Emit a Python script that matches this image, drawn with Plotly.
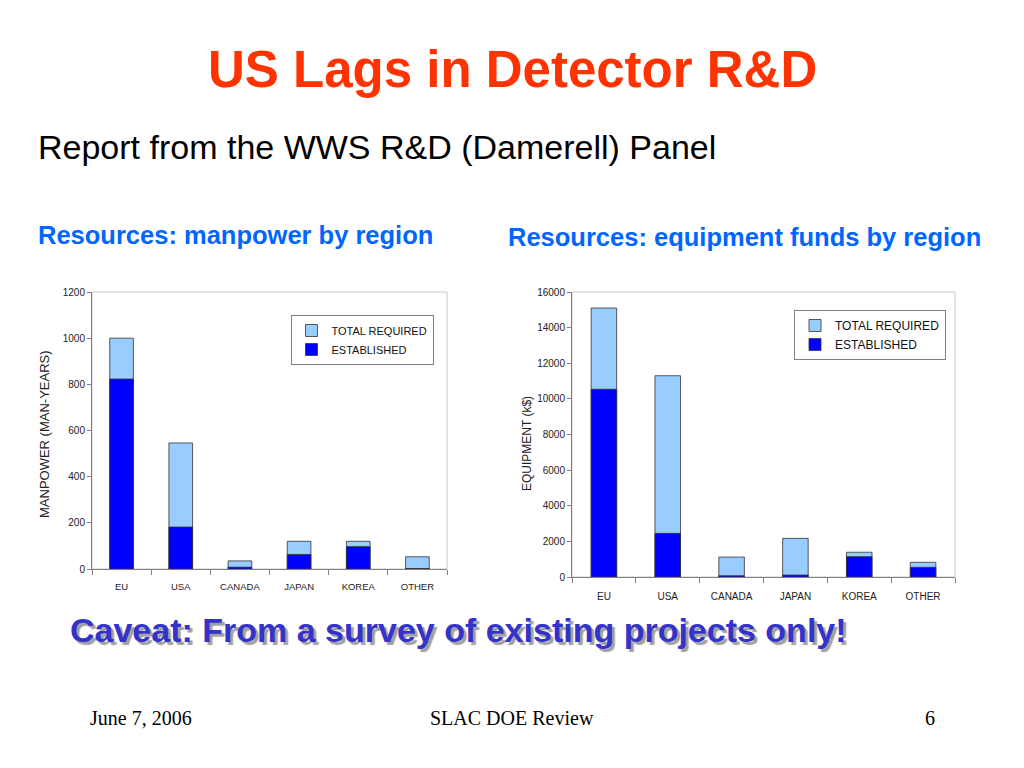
import plotly.graph_objects as go

W, H = 1024, 768
OFF = 8  # page body margin compensation

regions = ["EU", "USA", "CANADA", "JAPAN", "KOREA", "OTHER"]
manpower_total = [1000, 546, 35, 120, 120, 53]
manpower_established = [823, 182, 8, 63, 97, 2]
equip_total = [15100, 11300, 1120, 2170, 1390, 825]
equip_established = [10540, 2450, 70, 110, 1140, 545]

LIGHT = "#99CCFF"
DARK = "#0000FF"
OUTLINE = "#333333"
SANS = "Liberation Sans, Arial, sans-serif"


def px(x):
    return (x - OFF) / W


def py(y):
    return 1 - (y - OFF) / H


fig = go.Figure()

fig.add_trace(go.Bar(x=regions, y=manpower_total, name="TOTAL REQUIRED",
                     marker=dict(color=LIGHT, line=dict(color=OUTLINE, width=0.8)),
                     width=0.4, xaxis="x", yaxis="y", legend="legend"))
fig.add_trace(go.Bar(x=regions, y=manpower_established, name="ESTABLISHED",
                     marker=dict(color=DARK, line=dict(color=OUTLINE, width=0.8)),
                     width=0.4, xaxis="x", yaxis="y", legend="legend"))
fig.add_trace(go.Bar(x=regions, y=equip_total, name="TOTAL REQUIRED",
                     marker=dict(color=LIGHT, line=dict(color=OUTLINE, width=0.8)),
                     width=0.4, xaxis="x2", yaxis="y2", legend="legend2"))
fig.add_trace(go.Bar(x=regions, y=equip_established, name="ESTABLISHED",
                     marker=dict(color=DARK, line=dict(color=OUTLINE, width=0.8)),
                     width=0.4, xaxis="x2", yaxis="y2", legend="legend2"))


def xaxis_style(size, standoff):
    return dict(type="category", showline=True, linecolor="#808080", linewidth=1,
                ticks="outside", tickson="boundaries", ticklen=5, tickcolor="#808080",
                showgrid=False, tickfont=dict(family=SANS, size=size, color="#222222"),
                zeroline=False, automargin=False, ticklabelstandoff=standoff)


def yaxis_style(size):
    return dict(showline=True, linecolor="#808080", linewidth=1, ticks="outside",
                ticklen=4, tickcolor="#808080", showgrid=False,
                tickfont=dict(family=SANS, size=size, color="#222222"),
                zeroline=False, automargin=False, tickformat="d")


fig.update_layout(
    width=W, height=H,
    margin=dict(l=0, r=0, t=0, b=0, pad=0),
    paper_bgcolor="white", plot_bgcolor="white",
    barmode="overlay",
    xaxis=dict(domain=[px(92), px(447)], anchor="y", **xaxis_style(9.5, 9)),
    yaxis=dict(domain=[py(569), py(292)], anchor="x", range=[0, 1200], dtick=200,
               **yaxis_style(10)),
    xaxis2=dict(domain=[px(572), px(955)], anchor="y2", **xaxis_style(10, 10)),
    yaxis2=dict(domain=[py(577), py(292)], anchor="x2", range=[0, 16000], dtick=2000,
                **yaxis_style(10)),
    legend=dict(x=px(362), y=py(315), xanchor="center", yanchor="top",
                bgcolor="white", bordercolor="#808080", borderwidth=1,
                font=dict(family=SANS, size=11, color="#111111"),
                tracegroupgap=0, itemwidth=30),
    legend2=dict(x=px(870), y=py(310), xanchor="center", yanchor="top",
                 bgcolor="white", bordercolor="#808080", borderwidth=1,
                 font=dict(family=SANS, size=12, color="#111111"),
                 tracegroupgap=0, itemwidth=30),
    showlegend=True,
)

# plot area frames (light gray top/right border)
for xr, yr in (("x domain", "y domain"), ("x2 domain", "y2 domain")):
    fig.add_shape(type="rect", xref=xr, yref=yr, x0=0, x1=1, y0=0, y1=1,
                  line=dict(color="#C8C8C8", width=1), layer="below")

annotations = []
# axis titles
annotations.append(dict(text="MANPOWER (MAN-YEARS)", x=px(44), y=py(434), textangle=-90,
                        xref="paper", yref="paper", xanchor="center", yanchor="middle",
                        showarrow=False, font=dict(family=SANS, size=13, color="#222222")))
annotations.append(dict(text="EQUIPMENT (k$)", x=px(527), y=py(444), textangle=-90,
                        xref="paper", yref="paper", xanchor="center", yanchor="middle",
                        showarrow=False, font=dict(family=SANS, size=12, color="#222222")))
annotations.append(dict(text="<b>US Lags in Detector R&D</b>", x=px(512), y=py(70),
                        xref="paper", yref="paper", xanchor="center", yanchor="middle",
                        showarrow=False,
                        font=dict(family=SANS, size=51, color="#FF3300")))
annotations.append(dict(text="Report from the WWS R&D (Damerell) Panel", x=px(36), y=py(147),
                        xref="paper", yref="paper", xanchor="left", yanchor="middle",
                        showarrow=False,
                        font=dict(family=SANS, size=34, color="#000000")))
annotations.append(dict(text="<b>Resources: manpower by region</b>", x=px(36), y=py(235),
                        xref="paper", yref="paper", xanchor="left", yanchor="middle",
                        showarrow=False,
                        font=dict(family=SANS, size=25.5, color="#0066FF")))
annotations.append(dict(text="<b>Resources: equipment funds by region</b>", x=px(506), y=py(237),
                        xref="paper", yref="paper", xanchor="left", yanchor="middle",
                        showarrow=False,
                        font=dict(family=SANS, size=25.5, color="#0066FF")))
annotations.append(dict(text="<b>Caveat: From a survey of existing projects only!</b>",
                        x=px(68), y=py(630),
                        xref="paper", yref="paper", xanchor="left", yanchor="middle",
                        showarrow=False,
                        font=dict(family=SANS, size=34, color="#3333CC",
                                  shadow="3px 3px 1px #A0A0A0")))
footer_font = dict(family="Liberation Serif, Times New Roman, serif", size=20, color="#000000")
annotations.append(dict(text="June 7, 2006", x=px(88), y=py(718), xref="paper", yref="paper",
                        xanchor="left", yanchor="middle", showarrow=False, font=footer_font))
annotations.append(dict(text="SLAC DOE Review", x=px(512), y=py(718), xref="paper", yref="paper",
                        xanchor="center", yanchor="middle", showarrow=False, font=footer_font))
annotations.append(dict(text="6", x=px(937), y=py(718), xref="paper", yref="paper",
                        xanchor="right", yanchor="middle", showarrow=False, font=footer_font))

fig.update_layout(annotations=annotations)

fig.write_html("out.html")
